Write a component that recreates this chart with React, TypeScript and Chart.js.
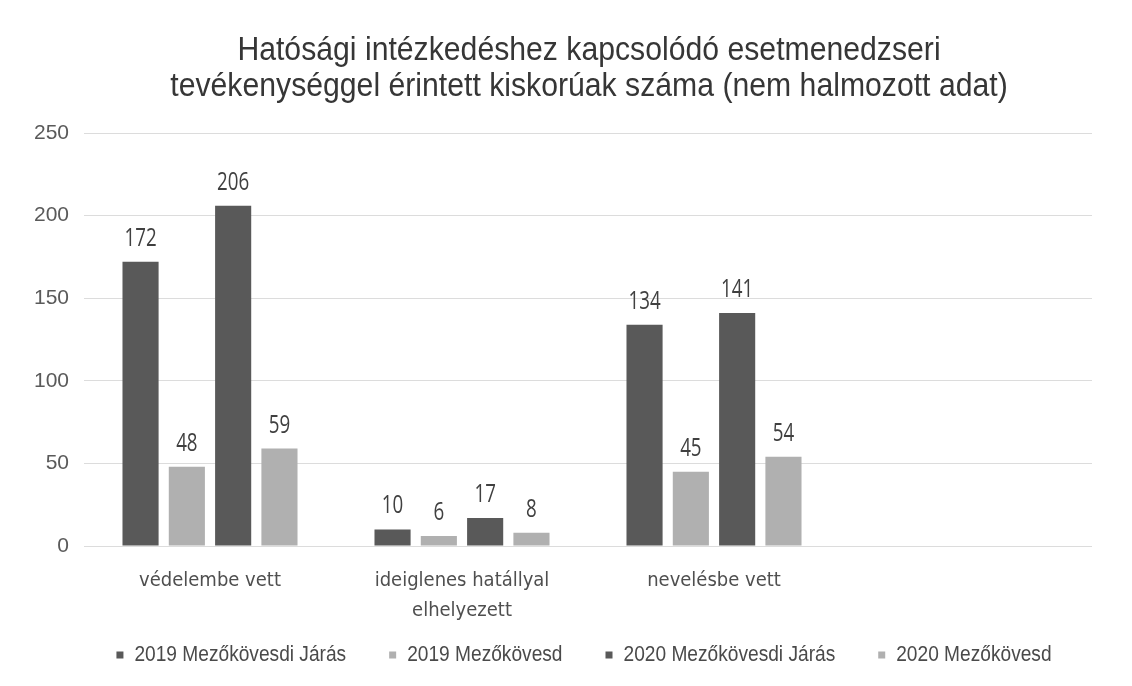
import React, { useEffect, useRef } from "react";
import { Chart, registerables } from "chart.js";

Chart.register(...registerables);

const categories: (string | string[])[] = [
  "védelembe vett",
  ["ideiglenes hatállyal", "elhelyezett"],
  "nevelésbe vett",
  "",
];
const seriesNames = [
  "2019 Mezőkövesdi Járás",
  "2019 Mezőkövesd",
  "2020 Mezőkövesdi Járás",
  "2020 Mezőkövesd",
];
const jaras2019 = [172, 10, 134, null];
const mkv2019 = [48, 6, 45, null];
const jaras2020 = [206, 17, 141, null];
const mkv2020 = [59, 8, 54, null];
const titleLines = [
  "Hatósági intézkedéshez kapcsolódó esetmenedzseri",
  "tevékenységgel érintett kiskorúak száma (nem halmozott adat)",
];

const DARK = "#595959";
const LIGHT = "#b0b0b0";
const COND = "'DejaVu Sans Condensed', 'Liberation Sans', sans-serif";

const titlePlugin = {
  id: "twoLineTitle",
  afterDraw(chart: any) {
    const ctx = chart.ctx;
    ctx.save();
    ctx.font = "34px 'Liberation Sans', Arial, sans-serif";
    ctx.fillStyle = "#363636";
    ctx.textAlign = "center";
    ctx.textBaseline = "alphabetic";
    titleLines.forEach((t, i) => {
      ctx.save();
      ctx.translate(589, 60 + i * 36);
      ctx.scale(0.888, 1);
      ctx.fillText(t, 0, 0);
      ctx.restore();
    });
    ctx.restore();
  },
};

const legendPlugin = {
  id: "customLegend",
  afterDraw(chart: any) {
    const ctx = chart.ctx;
    const sx = 0.87;
    const box = 7;
    const boxGap = 11;
    const itemGap = 43;
    ctx.save();
    ctx.font = "22px 'Liberation Sans', Arial, sans-serif";
    const items = chart.data.datasets.map((ds: any) => ({
      text: ds.label,
      color: ds.backgroundColor,
      w: ctx.measureText(ds.label).width * sx,
    }));
    const total = items.reduce((a: number, it: any) => a + box + boxGap + it.w, 0) + itemGap * (items.length - 1);
    let x = 584 - total / 2;
    const y = 655;
    ctx.textBaseline = "middle";
    ctx.textAlign = "left";
    items.forEach((it: any) => {
      ctx.fillStyle = it.color;
      ctx.fillRect(x, y - box / 2, box, box);
      x += box + boxGap;
      ctx.fillStyle = "#4a4a4a";
      ctx.save();
      ctx.translate(x, y);
      ctx.scale(sx, 1);
      ctx.fillText(it.text, 0, 0);
      ctx.restore();
      x += it.w + itemGap;
    });
    ctx.restore();
  },
};

const valueLabels = {
  id: "valueLabels",
  afterDatasetsDraw(chart: any) {
    const ctx = chart.ctx;
    ctx.save();
    ctx.font = "25px 'Open Sans', sans-serif";
    ctx.fillStyle = "#404040";
    ctx.textAlign = "center";
    ctx.textBaseline = "alphabetic";
    chart.data.datasets.forEach((ds: any, i: number) => {
      const meta = chart.getDatasetMeta(i);
      meta.data.forEach((el: any, j: number) => {
        const v = ds.data[j];
        if (v === null || v === undefined) return;
        ctx.save();
        ctx.translate(el.x, el.y - 16);
        ctx.scale(0.75, 1);
        ctx.fillText(String(v), 0, 0);
        ctx.restore();
      });
    });
    ctx.restore();
  },
};

export default function App() {
  const ref = useRef<HTMLCanvasElement>(null);
  useEffect(() => {
    document.body.style.margin = "0";
    const colors = [DARK, LIGHT, DARK, LIGHT];
    const values = [jaras2019, mkv2019, jaras2020, mkv2020];
    const chart = new Chart(ref.current!, {
      type: "bar",
      data: {
        labels: categories,
        datasets: seriesNames.map((n, i) => ({
          label: n,
          data: values[i],
          backgroundColor: colors[i],
          barPercentage: 0.78,
          categoryPercentage: 0.735,
        })),
      },
      options: {
        animation: false,
        responsive: false,
        layout: { padding: { left: 0, right: 40, top: 133, bottom: 40 } },
        plugins: {
          title: { display: false },
          legend: { display: false },
          tooltip: { enabled: false },
        },
        scales: {
          x: {
            grid: { display: false, drawTicks: false },
            border: { display: false },
            ticks: {
              color: "#4f4f4f",
              font: { family: COND, size: 20, lineHeight: 1.5 },
              padding: 20,
              maxRotation: 0,
            },
          },
          y: {
            min: 0,
            max: 250,
            ticks: {
              stepSize: 50,
              color: "#5a5a5a",
              font: { family: "'Liberation Sans', Arial, sans-serif", size: 21 },
              padding: 15,
            },
            grid: { color: "#dcdcdc", drawTicks: false },
            border: { display: false },
            afterFit: (s: any) => { s.width = 84; },
          },
        },
      },
      plugins: [valueLabels, titlePlugin, legendPlugin],
    });
    return () => chart.destroy();
  }, []);
  return <canvas ref={ref} width={1132} height={686} style={{ display: "block" }} />;
}
